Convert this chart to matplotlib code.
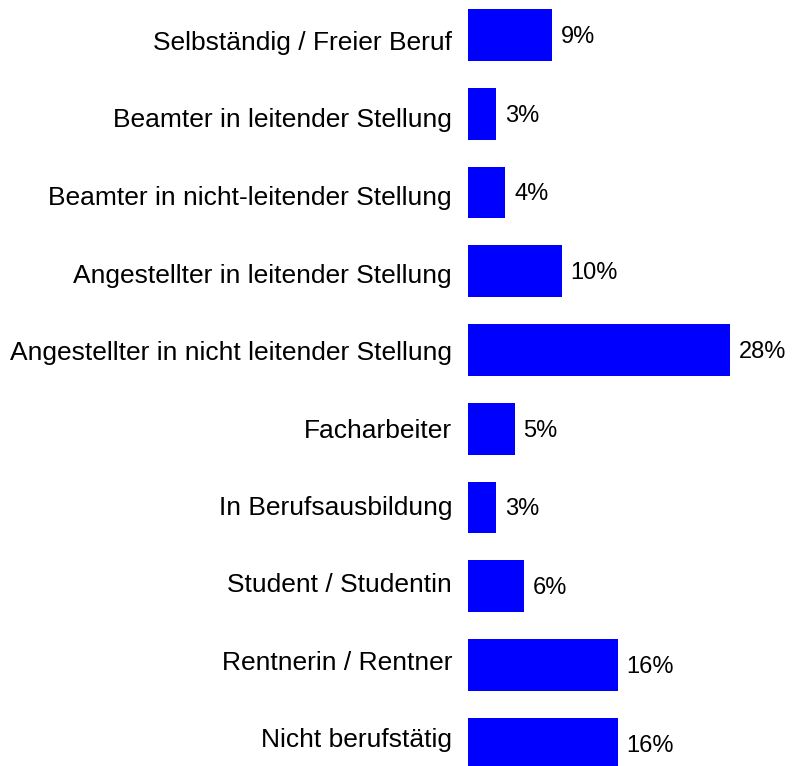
import matplotlib
matplotlib.use("Agg")
import matplotlib.pyplot as plt

categories = [
    "Selbständig / Freier Beruf",
    "Beamter in leitender Stellung",
    "Beamter in nicht-leitender Stellung",
    "Angestellter in leitender Stellung",
    "Angestellter in nicht leitender Stellung",
    "Facharbeiter",
    "In Berufsausbildung",
    "Student / Studentin",
    "Rentnerin / Rentner",
    "Nicht berufstätig",
]
values = [9, 3, 4, 10, 28, 5, 3, 6, 16, 16]
value_labels = ["9%", "3%", "4%", "10%", "28%", "5%", "3%", "6%", "16%", "16%"]

plt.rcParams['font.family'] = ['Liberation Sans', 'DejaVu Sans']

W, H = 792, 766
fig = plt.figure(figsize=(W / 100, H / 100), dpi=100)

# label axis (category labels, slightly tighter spacing than the bars)
lab_ax = fig.add_axes([468 / W, 0, (W - 468) / W, 1])
pos = list(range(len(categories)))
lab_step = 77.5
lab_ax.set_ylim((H - 50) / lab_step, -50 / lab_step)
lab_ax.set_yticks(pos)
lab_ax.set_yticklabels(categories, fontsize=19)
lab_ax.tick_params(axis='y', length=0, pad=11.5)
for lab in lab_ax.get_yticklabels():
    lab.set_verticalalignment('baseline')
lab_ax.set_xticks([])
lab_ax.patch.set_visible(False)
for s in lab_ax.spines.values():
    s.set_visible(False)

# bar axis
ax = fig.add_axes([468 / W, 0, (W - 468) / W, 1])
ax.barh(pos, values, height=0.66, color="#0000FF")
ax.set_ylim((H - 35) / 78.75, -35 / 78.75)
ax.set_xlim(0, (W - 468) / 9.36)
ax.set_yticks([])
ax.set_xticks([])
ax.patch.set_visible(False)
for s in ax.spines.values():
    s.set_visible(False)

for p, v, t in zip(pos, values, value_labels):
    ax.annotate(t, (v, p), xytext=(6.3, -5.6), textcoords="offset points",
                va="baseline", ha="left", fontsize=17)

fig.savefig("out.png", dpi=100)
